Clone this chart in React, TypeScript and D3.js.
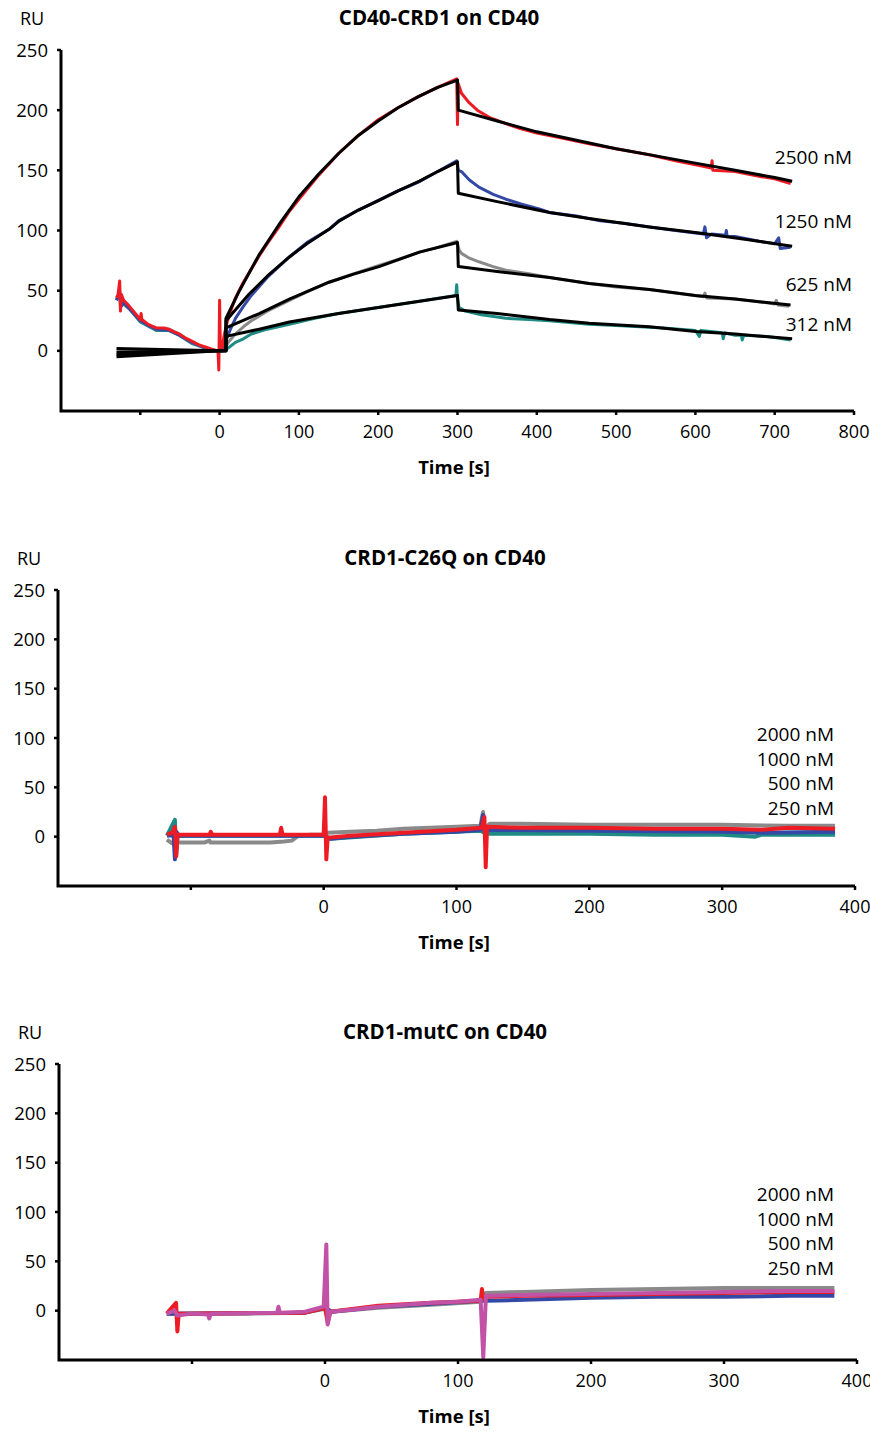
import React from "react";
import * as d3 from "d3";

type P = [number, number];

// ---------- Panel 1: CD40-CRD1 on CD40 ----------
const p1Red: P[] = [[-130,44],[-128,47],[-126,58],[-125,33],[-124,47],[-121,42],[-115,38],[-110,34],[-105,30],[-100,26],[-99,31],[-98,26],[-90,22],[-80,19],[-70,19],[-64,18],[-58,16],[-51,14],[-44,11],[-35,8],[-26,5],[-17,3],[-8,1],[-2,0],[-1,-16],[0,42],[1,0],[3,2],[6,14],[10,25],[15,35],[20,44],[30,57],[40,68],[50,79],[60,89],[75,103],[88,116],[100,126],[125,146],[150,164],[175,179],[200,192],[225,202],[250,211],[275,219],[299,226],[300,188],[301,222],[305,214],[315,206],[325,200],[340,194],[360,189],[378,185],[400,181],[430,177],[466,172],[500,168],[542,163],[575,158],[605,154],[620,152],[621,158],[622,150],[650,149],[680,145],[700,143],[720,139]];
const p1Blue: P[] = [[-130,42],[-126,50],[-125,36],[-121,40],[-110,32],[-100,25],[-90,21],[-80,18],[-64,17],[-51,13],[-35,7],[-17,2],[-4,0],[3,0],[6,5],[10,12],[15,20],[20,27],[30,37],[40,46],[60,61],[88,78],[110,90],[138,101],[150,108],[175,117],[200,125],[225,133],[250,140],[275,149],[299,158],[301,150],[305,149],[315,142],[327,136],[345,130],[361,126],[380,122],[403,118],[416,115],[450,112],[480,108],[510,106],[542,103],[575,100],[610,97],[612,103],[614,94],[620,97],[638,96],[639,100],[640,95],[650,95],[680,91],[700,89],[705,94],[707,85],[720,86]];
const p1Gray: P[] = [[-130,43],[-126,48],[-124,40],[-110,33],[-100,25],[-90,21],[-80,18],[-64,18],[-51,14],[-35,7],[-17,2],[-4,0],[4,0],[8,4],[12,8],[20,14],[30,20],[40,25],[60,33],[88,42],[110,49],[138,57],[160,62],[201,71],[225,76],[252,82],[275,86],[299,91],[302,84],[305,81],[315,77],[327,74],[345,70],[361,67],[390,64],[416,61],[466,56],[500,53],[542,51],[575,48],[610,45],[612,48],[614,44],[650,43],[690,40],[700,39],[702,42],[704,38],[718,37]];
const p1Teal: P[] = [[-130,42],[-126,46],[-110,32],[-100,24],[-80,17],[-64,17],[-51,13],[-35,6],[-17,2],[-4,0],[5,0],[8,1],[12,3],[20,7],[30,10],[40,14],[60,18],[88,22],[120,27],[150,31],[200,36],[250,41],[298,46],[299,55],[300,44],[302,36],[310,33],[330,30],[361,27],[390,26],[416,25],[466,22],[500,21],[560,19],[600,17],[605,12],[607,17],[634,15],[635,10],[637,15],[650,13],[658,13],[659,9],[661,13],[690,12],[700,11],[720,9]];
const p1Fit2500: P[] = [[-130,-5],[0,0],[8,0],[8,27],[25,50],[50,80],[75,105],[100,128],[125,147],[150,164],[175,179],[200,191],[225,202],[250,211],[275,219],[300,225],[301,200],[350,191],[400,182],[450,175],[500,168],[550,162],[600,156],[650,150],[700,144],[722,141]];
const p1Fit1250: P[] = [[-130,-3],[0,0],[8,0],[8,25],[37,47],[60,62],[88,78],[110,89],[138,101],[151,108],[175,117],[201,125],[225,133],[252,141],[275,149],[300,157],[301,131],[350,124],[416,115],[466,110],[542,103],[605,98],[660,93],[722,87]];
const p1Fit625: P[] = [[-130,-1],[0,0],[8,0],[8,19],[50,31],[88,43],[138,57],[170,64],[201,70],[252,82],[300,90],[301,70],[350,66],[416,61],[466,56],[542,51],[600,46],[650,43],[720,38]];
const p1Fit312: P[] = [[-130,2],[0,0],[8,0],[8,12],[50,18],[88,24],[150,31],[200,36],[250,41],[300,46],[301,34],[350,31],[416,26],[466,23],[542,20],[600,16],[650,14],[722,10]];
const p1Labels = ["2500 nM", "1250 nM", "625 nM", "312 nM"];

// ---------- Panel 2: CRD1-C26Q on CD40 ----------
const p2Gray: P[] = [[-118,-3],[-115,-6],[-112,-8],[-110,-6],[-90,-6],[-86,-4],[-85,-6],[-60,-6],[-40,-6],[-30,-5],[-24,-4],[-19,1],[-10,2],[0,2],[3,4],[20,5],[40,6],[60,8],[80,9],[100,10],[118,11],[120,25],[121,8],[125,13],[150,13],[200,12],[250,12],[300,12],[350,11],[385,11]];
const p2Blue: P[] = [[-118,1],[-113,2],[-112,-23],[-111,5],[-109,1],[-60,1],[0,1],[5,-2],[20,0],[60,3],[100,5],[118,7],[120,22],[121,6],[125,7],[200,6],[300,5],[330,4],[385,5]];
const p2Teal: P[] = [[-118,1],[-112,17],[-111,-18],[-110,1],[0,1],[5,-2],[60,3],[118,6],[121,4],[125,3],[200,3],[250,2],[300,2],[325,0],[330,2],[385,2]];
const p2Red: P[] = [[-118,2],[-114,4],[-112,10],[-111,-20],[-110,2],[-86,2],[-85,5],[-84,2],[-33,2],[-32,9],[-31,2],[0,2],[1,40],[2,-23],[3,-1],[20,1],[60,4],[100,7],[119,9],[121,20],[122,-31],[123,10],[150,9],[200,9],[250,8],[300,8],[330,7],[350,9],[385,8]];
const p2Labels = ["2000 nM", "1000 nM", "500 nM", "250 nM"];

// ---------- Panel 3: CRD1-mutC on CD40 ----------
const p3Gray: P[] = [[-119,-3],[-60,-3],[-15,-2],[0,2],[5,-1],[40,3],[80,6],[117,9],[121,18],[150,19],[200,21],[250,22],[300,23],[350,23],[383,23]];
const p3Blue: P[] = [[-119,-3],[-15,-2],[0,3],[5,-1],[40,4],[80,7],[117,10],[121,10],[150,11],[200,13],[250,14],[300,14],[350,15],[383,15]];
const p3Red: P[] = [[-119,-3],[-112,8],[-111,-21],[-110,-3],[-15,-2],[0,3],[2,-12],[4,-1],[40,5],[80,8],[117,10],[118,22],[119,12],[121,14],[150,15],[200,16],[250,17],[300,18],[350,19],[383,19]];
const p3Magenta: P[] = [[-119,-3],[-113,0],[-111,-5],[-100,-3],[-88,-4],[-87,-8],[-86,-3],[-36,-2],[-35,4],[-34,-2],[-15,-1],[-1,4],[1,67],[2,-14],[4,-1],[20,1],[40,4],[60,6],[80,8],[100,9],[117,11],[119,-47],[121,15],[150,16],[200,17],[250,18],[300,19],[350,20],[383,20]];
const p3Labels = ["2000 nM", "1000 nM", "500 nM", "250 nM"];

const yTicks = [0, 50, 100, 150, 200, 250];
const xTicksTop = [-100, 0, 100, 200, 300, 400, 500, 600, 700, 800];
const xTicksLow = [-100, 0, 100, 200, 300, 400];

const FONT = "'Open Sans', sans-serif";
const RED = "#ed1c24";
const BLUE = "#3349a5";
const GRAY = "#8a8a8a";
const TEAL = "#1e8c84";
const MAGENTA = "#c152a6";

interface Series { data: P[]; color: string; width: number }

interface PanelProps {
  title: string;
  titleX: number;
  titleY: number;
  left: number; right: number; top: number; bottom: number;
  xDomain: [number, number];
  xTicks: number[];
  series: Series[];
  labels: { text: string; x: number; y: number }[];
}

function Panel(p: PanelProps) {
  const x = d3.scaleLinear().domain(p.xDomain).range([p.left, p.right]);
  const y = d3.scaleLinear().domain([-50, 250]).range([p.bottom, p.top]);
  const line = d3.line<P>().x(d => x(d[0])).y(d => y(d[1]));
  return (
    <g fontFamily={FONT}>
      <text x={p.titleX} y={p.titleY} textAnchor="middle" fontWeight="bold" fontSize={20.5}>{p.title}</text>
      <text x={p.left - 41} y={p.titleY} fontSize={18}>RU</text>
      {p.series.map((s, i) => (
        <path key={i} d={line(s.data) || ""} fill="none" stroke={s.color} strokeWidth={s.width} strokeLinejoin="round" />
      ))}
      <path d={`M${p.left},${p.top}V${p.bottom}H${p.right}`} fill="none" stroke="#000" strokeWidth={3} />
      {yTicks.map(t => (
        <g key={t}>
          <line x1={p.left - 4} x2={p.left} y1={y(t)} y2={y(t)} stroke="#000" strokeWidth={2.5} />
          <text x={p.left - 13} y={y(t) + 6.5} textAnchor="end" fontSize={18.5}>{t}</text>
        </g>
      ))}
      {p.xTicks.map(t => (
        <g key={t}>
          <line x1={x(t)} x2={x(t)} y1={p.bottom} y2={p.bottom + 4} stroke="#000" strokeWidth={2.5} />
          {t >= 0 && <text x={x(t)} y={p.bottom + 27} textAnchor="middle" fontSize={18}>{t}</text>}
        </g>
      ))}
      <text x={454} y={p.bottom + 63} textAnchor="middle" fontWeight="bold" fontSize={18.5}>Time [s]</text>
      {p.labels.map((l, i) => (
        <text key={i} x={l.x} y={l.y} textAnchor="end" fontSize={19}>{l.text}</text>
      ))}
    </g>
  );
}

export default function App() {
  const p1Y = [164, 228, 291, 331];
  const p1Lab = p1Labels.map((t, i) => ({ text: t, x: 852, y: p1Y[i] }));
  const p2Lab = p2Labels.map((t, i) => ({ text: t, x: 834, y: 741 + i * 24.5 }));
  const p3Lab = p3Labels.map((t, i) => ({ text: t, x: 834, y: 1201 + i * 24.5 }));
  return (
    <svg width={870} height={1432} style={{ position: "absolute", left: 0, top: 0, background: "#fff" }}>
      <rect width={870} height={1432} fill="#fff" />
      <Panel
        title="CD40-CRD1 on CD40" titleX={439} titleY={25}
        left={61} right={854} top={50} bottom={411}
        xDomain={[-200, 800]} xTicks={xTicksTop}
        series={[
          { data: p1Teal, color: TEAL, width: 3 },
          { data: p1Gray, color: GRAY, width: 3 },
          { data: p1Blue, color: BLUE, width: 3 },
          { data: p1Red, color: RED, width: 3 },
          { data: p1Fit312, color: "#000", width: 3 },
          { data: p1Fit625, color: "#000", width: 3 },
          { data: p1Fit1250, color: "#000", width: 3 },
          { data: p1Fit2500, color: "#000", width: 3 },
        ]}
        labels={p1Lab}
      />
      <Panel
        title="CRD1-C26Q on CD40" titleX={445} titleY={565}
        left={58} right={855} top={590} bottom={886}
        xDomain={[-200, 400]} xTicks={xTicksLow}
        series={[
          { data: p2Gray, color: GRAY, width: 4 },
          { data: p2Teal, color: TEAL, width: 4 },
          { data: p2Blue, color: BLUE, width: 4 },
          { data: p2Red, color: RED, width: 4 },
        ]}
        labels={p2Lab}
      />
      <Panel
        title="CRD1-mutC on CD40" titleX={445} titleY={1039}
        left={59} right={857} top={1064} bottom={1360}
        xDomain={[-200, 400]} xTicks={xTicksLow}
        series={[
          { data: p3Gray, color: GRAY, width: 4 },
          { data: p3Blue, color: BLUE, width: 4 },
          { data: p3Red, color: RED, width: 4 },
          { data: p3Magenta, color: MAGENTA, width: 4 },
        ]}
        labels={p3Lab}
      />
    </svg>
  );
}
